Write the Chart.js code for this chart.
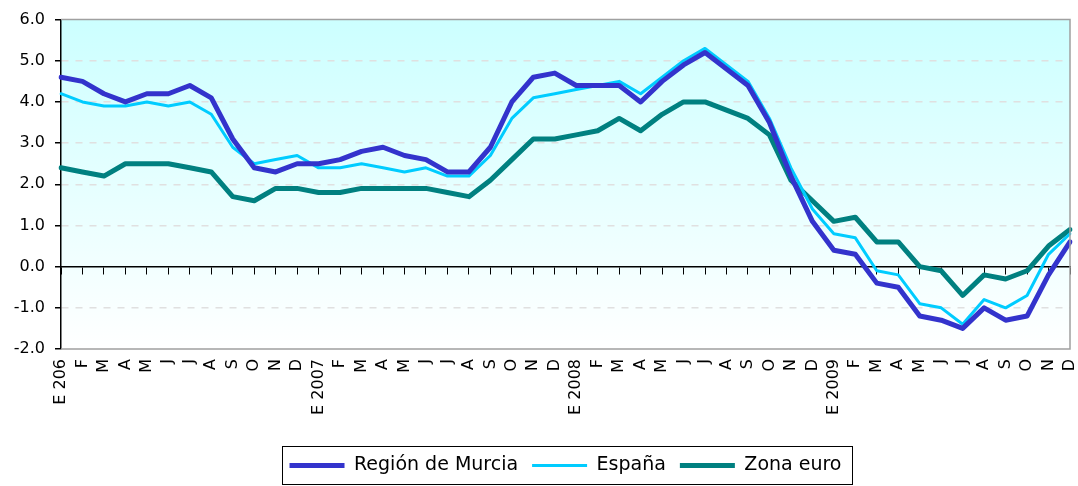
<!DOCTYPE html>
<html>
<head>
<meta charset="utf-8">
<script src="https://cdn.jsdelivr.net/npm/chart.js@4/dist/chart.umd.min.js"></script>
<style>
  html, body { margin: 0; padding: 0; background: #fff; }
  #wrap { width: 1078px; height: 486px; position: relative; }
</style>
</head>
<body>
<div id="wrap"><canvas id="ipcChart"></canvas></div>
<script>
const months = ['E 206','F','M','A','M','J','J','A','S','O','N','D',
    'E 2007','F','M','A','M','J','J','A','S','O','N','D',
    'E 2008','F','M','A','M','J','J','A','S','O','N','D',
    'E 2009','F','M','A','M','J','J','A','S','O','N','D'];

const murcia = [4.6,4.5,4.2,4.0,4.2,4.2,4.4,4.1,3.1,2.4,2.3,2.5,
    2.5,2.6,2.8,2.9,2.7,2.6,2.3,2.3,2.9,4.0,4.6,4.7,
    4.4,4.4,4.4,4.0,4.5,4.9,5.2,4.8,4.4,3.5,2.2,1.1,
    0.4,0.3,-0.4,-0.5,-1.2,-1.3,-1.5,-1.0,-1.3,-1.2,-0.2,0.6];

const espana = [4.2,4.0,3.9,3.9,4.0,3.9,4.0,3.7,2.9,2.5,2.6,2.7,
    2.4,2.4,2.5,2.4,2.3,2.4,2.2,2.2,2.7,3.6,4.1,4.2,
    4.3,4.4,4.5,4.2,4.6,5.0,5.3,4.9,4.5,3.6,2.4,1.4,
    0.8,0.7,-0.1,-0.2,-0.9,-1.0,-1.4,-0.8,-1.0,-0.7,0.3,0.8];

const zonaEuro = [2.4,2.3,2.2,2.5,2.5,2.5,2.4,2.3,1.7,1.6,1.9,1.9,
    1.8,1.8,1.9,1.9,1.9,1.9,1.8,1.7,2.1,2.6,3.1,3.1,
    3.2,3.3,3.6,3.3,3.7,4.0,4.0,3.8,3.6,3.2,2.1,1.6,
    1.1,1.2,0.6,0.6,0.0,-0.1,-0.7,-0.2,-0.3,-0.1,0.5,0.9];

const seriesNames = ['Región de Murcia', 'España', 'Zona euro'];

// background gradient + grey frame round the plot, border round the legend
const frame = {
    id: 'frame',
    beforeDraw(chart) {
        const ctx = chart.ctx, a = chart.chartArea;
        const g = ctx.createLinearGradient(0, a.top, 0, a.bottom);
        g.addColorStop(0, '#ccffff');
        g.addColorStop(1, '#ffffff');
        ctx.save();
        ctx.fillStyle = g;
        ctx.fillRect(a.left, a.top, a.right - a.left, a.bottom - a.top);
        ctx.restore();
    },
    afterDraw(chart) {
        const ctx = chart.ctx, a = chart.chartArea;
        ctx.save();
        ctx.strokeStyle = '#a0a0a0';
        ctx.lineWidth = 1.5;
        ctx.beginPath();
        ctx.moveTo(a.left, a.top);
        ctx.lineTo(a.right, a.top);
        ctx.lineTo(a.right, a.bottom);
        ctx.lineTo(a.left, a.bottom);
        ctx.stroke();
        const boxes = chart.legend.legendHitBoxes;
        if (boxes && boxes.length) {
            let x1 = Infinity, x2 = -Infinity, y1 = Infinity, y2 = -Infinity;
            boxes.forEach(b => {
                x1 = Math.min(x1, b.left); x2 = Math.max(x2, b.left + b.width);
                y1 = Math.min(y1, b.top); y2 = Math.max(y2, b.top + b.height);
            });
            ctx.strokeStyle = '#000';
            ctx.lineWidth = 1;
            ctx.strokeRect(Math.round(x1 - 8) + 0.5, Math.round(y1 - 10) + 0.5, Math.round(x2 - x1 + 18), Math.round(y2 - y1 + 19));
        }
        ctx.restore();
    }
};

let ctx = document.getElementById('ipcChart').getContext('2d');
const ipcChart = new Chart(ctx, {
    type: 'line',
    data: {
        labels: months,
        datasets: [{
            label: seriesNames[0],
            data: murcia,
            borderColor: '#3333cc',
            backgroundColor: '#3333cc',
            borderWidth: 5
        }, {
            label: seriesNames[1],
            data: espana,
            borderColor: '#00ccff',
            backgroundColor: '#00ccff',
            borderWidth: 3
        }, {
            label: seriesNames[2],
            data: zonaEuro,
            borderColor: '#008080',
            backgroundColor: '#008080',
            borderWidth: 5
        }]
    },
    plugins: [frame],
    options: {
        responsive: true,
        maintainAspectRatio: false,
        animation: false,
        events: [],
        layout: { padding: { top: 4, right: 8, bottom: 1, left: 0 } },
        elements: {
            point: { radius: 0 },
            line: { tension: 0, fill: false, borderJoinStyle: 'round', borderCapStyle: 'round' }
        },
        plugins: {
            tooltip: { enabled: false },
            legend: {
                position: 'bottom',
                fullSize: false,
                labels: {
                    usePointStyle: true,
                    pointStyle: 'line',
                    pointStyleWidth: 55,
                    boxHeight: 8,
                    padding: 14,
                    color: '#000',
                    font: { family: 'DejaVu Sans', size: 19 }
                }
            }
        },
        scales: {
            x: {
                type: 'category',
                position: { y: 0 },
                offset: false,
                ticks: { display: false },
                grid: { drawOnChartArea: false, drawTicks: true, tickLength: 7, tickColor: '#000', tickWidth: 1 },
                border: { display: true, color: '#000', width: 1.5 }
            },
            x2: {
                type: 'category',
                position: 'bottom',
                offset: false,
                grid: { display: false },
                border: { display: false },
                ticks: {
                    autoSkip: false,
                    minRotation: 90,
                    maxRotation: 90,
                    padding: 2,
                    color: '#000',
                    font: { family: 'DejaVu Sans', size: 16 }
                },
                afterFit: function (scale) {
                    scale.height = 93;
                    scale.paddingLeft = 0;
                    scale.paddingRight = 0;
                }
            },
            y: {
                min: -2,
                max: 6,
                ticks: {
                    stepSize: 1,
                    padding: 10,
                    color: '#000',
                    font: { family: 'DejaVu Sans', size: 16 },
                    callback: function (v) { return Number(v).toFixed(1); }
                },
                grid: {
                    color: function (c) {
                        let v = c.tick ? c.tick.value : null;
                        return (v === 0 || v === 6 || v === -2) ? 'rgba(0,0,0,0)' : '#e0e0e0';
                    },
                    tickColor: '#000',
                    tickLength: 6,
                    lineWidth: 1.5
                },
                border: { display: true, color: '#000', width: 1.5, dash: [7, 7] },
                afterFit: function (scale) { scale.width = 61; }
            }
        }
    }
});
</script>
</body>
</html>
